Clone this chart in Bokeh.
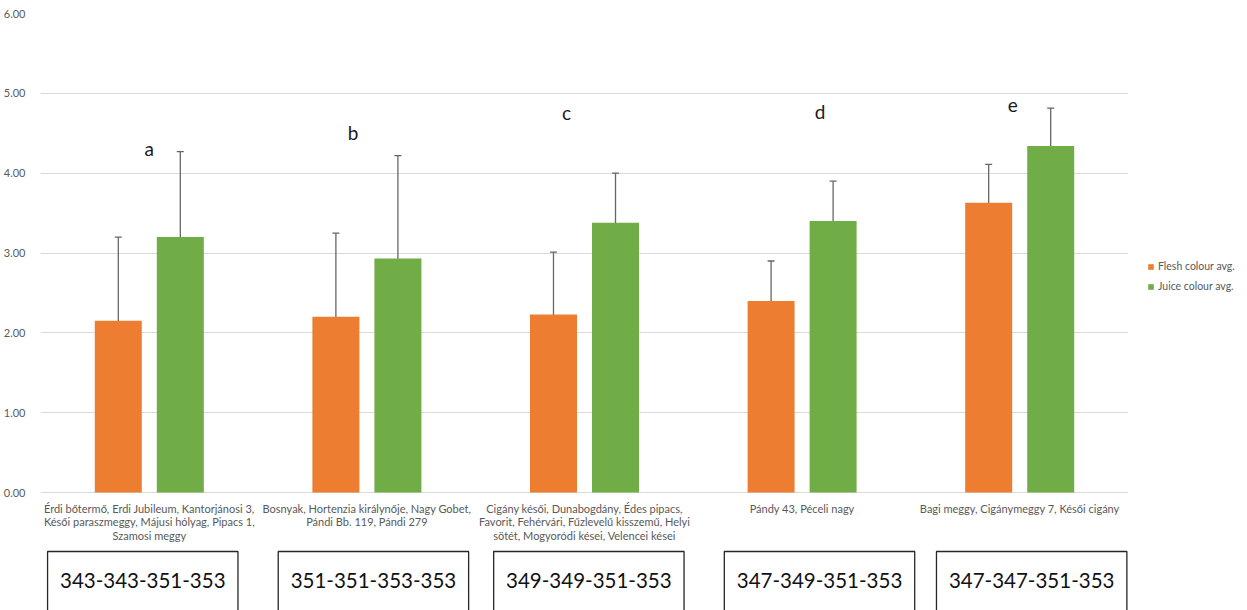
from bokeh.plotting import figure
from bokeh.models import (ColumnDataSource, Range1d, FixedTicker, Whisker, TeeHead,
                          Legend, LegendItem, CustomJSTickFormatter)
from bokeh.layouts import column, row
from bokeh.embed import file_html
from bokeh.resources import INLINE
from bokeh.core.properties import value

# ---- data -------------------------------------------------------------
cultivars = [
    "Érdi bőtermő, Erdi Jubileum, Kantorjánosi 3,\nKésői paraszmeggy, Májusi hólyag, Pipacs 1,\nSzamosi meggy",
    "Bosnyak, Hortenzia királynője, Nagy Gobet,\nPándi Bb. 119, Pándi 279",
    "Cigány késői, Dunabogdány, Édes pipacs,\nFavorit, Fehérvári, Fűzlevelű kisszemű, Helyi\nsötét, Mogyoródi kései, Velencei kései",
    "Pándy 43, Péceli nagy",
    "Bagi meggy, Cigánymeggy 7, Késői cigány",
]
genotypes = ["343-343-351-353", "351-351-353-353", "349-349-351-353",
             "347-349-351-353", "347-347-351-353"]
flesh = [2.15, 2.20, 2.23, 2.40, 3.63]
flesh_err = [1.05, 1.05, 0.78, 0.50, 0.48]
juice = [3.20, 2.93, 3.38, 3.40, 4.34]
juice_err = [1.07, 1.29, 0.62, 0.50, 0.475]
series_names = ["Flesh colour avg.", "Juice colour avg."]
groups = ["a", "b", "c", "d", "e"]
group_y = [4.31, 4.51, 4.76, 4.77, 4.86]
group_dx = [0.0, -0.064, -0.083, 0.083, -0.032]
box_dx = [-0.03, 0.03, 0.02, 0.08, 0.055]
y_ticks = [0, 1, 2, 3, 4, 5, 6]

ORANGE = "#ED7D31"
GREEN = "#70AD47"
GREY_TXT = "#595959"
FONT = "Lato"

n = len(cultivars)
centers = [i + 0.5 for i in range(n)]
half_gap = 0.1425
bar_w = 0.216

src = ColumnDataSource(dict(
    xc=centers,
    xf=[c - half_gap for c in centers],
    xj=[c + half_gap for c in centers],
    flesh=flesh,
    juice=juice,
    f_lo=[v - e for v, e in zip(flesh, flesh_err)],
    f_hi=[v + e for v, e in zip(flesh, flesh_err)],
    j_lo=[v - e for v, e in zip(juice, juice_err)],
    j_hi=[v + e for v, e in zip(juice, juice_err)],
    gx=[c + d for c, d in zip(centers, group_dx)],
    gy=group_y,
    grp=groups,
))

# ---- main bar chart ---------------------------------------------------
p = figure(width=1128, height=500, output_backend="svg", toolbar_location=None,
           x_range=Range1d(0, n), y_range=Range1d(-0.025, 6.0),
           min_border_left=40, min_border_right=0, min_border_top=13,
           min_border_bottom=6)
p.outline_line_color = None
p.background_fill_color = "white"
p.border_fill_color = "white"

p.xaxis.visible = False
p.xgrid.visible = False
p.ygrid.ticker = FixedTicker(ticks=y_ticks)
p.ygrid.grid_line_color = "#D9D9D9"
p.ygrid.grid_line_width = 1

ya = p.yaxis[0]
ya.ticker = FixedTicker(ticks=y_ticks)
ya.formatter = CustomJSTickFormatter(code="return tick.toFixed(2);")
ya.axis_line_color = None
ya.major_tick_line_color = None
ya.minor_tick_line_color = None
ya.major_label_text_font = FONT
ya.major_label_text_font_size = "11px"
ya.major_label_text_color = GREY_TXT
ya.major_label_standoff = 9

p.vbar(x="xf", top="flesh", bottom=0, width=bar_w, source=src,
       fill_color=ORANGE, line_color=None)
p.vbar(x="xj", top="juice", bottom=0, width=bar_w, source=src,
       fill_color=GREEN, line_color=None)

for base, lo, hi in (("xf", "f_lo", "f_hi"), ("xj", "j_lo", "j_hi")):
    w = Whisker(source=src, base=base, lower=lo, upper=hi,
                line_color="#666666", line_width=1.3,
                upper_head=TeeHead(size=7, line_color="#666666", line_width=1.3),
                lower_head=TeeHead(size=7, line_color="#666666", line_width=1.3))
    p.add_layout(w)

p.text(x="gx", y="gy", text="grp", source=src, text_align="center",
       text_baseline="middle", text_font=value(FONT), text_font_size="19px",
       text_color="#1a1a1a")

# ---- cultivar lists and genotype boxes --------------------------------
lab = ColumnDataSource(dict(
    xc=centers,
    xb=[c + d for c, d in zip(centers, box_dx)],
    txt=cultivars,
    geno=genotypes,
))

q = figure(width=1128, height=110, output_backend="svg", toolbar_location=None,
           x_range=p.x_range, y_range=Range1d(110, 0),
           min_border_left=40, min_border_right=0, min_border_top=0,
           min_border_bottom=0)
q.outline_line_color = None
q.axis.visible = False
q.grid.visible = False

q.text(x="xc", y=1, text="txt", source=lab, text_align="center",
       text_baseline="top", text_font=value(FONT), text_font_size="11px",
       text_color=GREY_TXT, text_line_height=1.06)

q.rect(x="xb", y=81, width=0.875, height=60, source=lab,
       fill_color="white", line_color="#262626", line_width=1.3)
q.text(x="xb", y=80, text="geno", source=lab, text_align="center",
       text_baseline="middle", text_font=value(FONT), text_font_size="20.5px",
       text_color="#111111")

# ---- legend panel on the right ----------------------------------------
lf = figure(width=119, height=610, output_backend="svg", toolbar_location=None,
            x_range=Range1d(0, 1), y_range=Range1d(0, 1),
            min_border_left=0, min_border_right=0, min_border_top=0,
            min_border_bottom=0)
lf.outline_line_color = None
lf.axis.visible = False
lf.grid.visible = False
# key glyphs sit outside the visible range; only their legend swatches show
key = ColumnDataSource(dict(x=[-5], top=[-5]))
r_f = lf.vbar(x="x", top="top", bottom=-6, width=0.1, source=key,
              fill_color=ORANGE, line_color=None)
r_j = lf.vbar(x="x", top="top", bottom=-6, width=0.1, source=key,
              fill_color=GREEN, line_color=None)
legend = Legend(items=[LegendItem(label=series_names[0], renderers=[r_f]),
                       LegendItem(label=series_names[1], renderers=[r_j])],
                location=(19, 318), orientation="vertical",
                glyph_width=7, glyph_height=7, label_standoff=4,
                label_text_font=FONT, label_text_font_size="10.5px",
                label_text_color=GREY_TXT, spacing=8, padding=0, margin=0,
                border_line_color=None, background_fill_alpha=0)
lf.add_layout(legend)

layout = row(column(p, q, spacing=0), lf, spacing=0)

open("out.html", "w").write(file_html(layout, INLINE))
